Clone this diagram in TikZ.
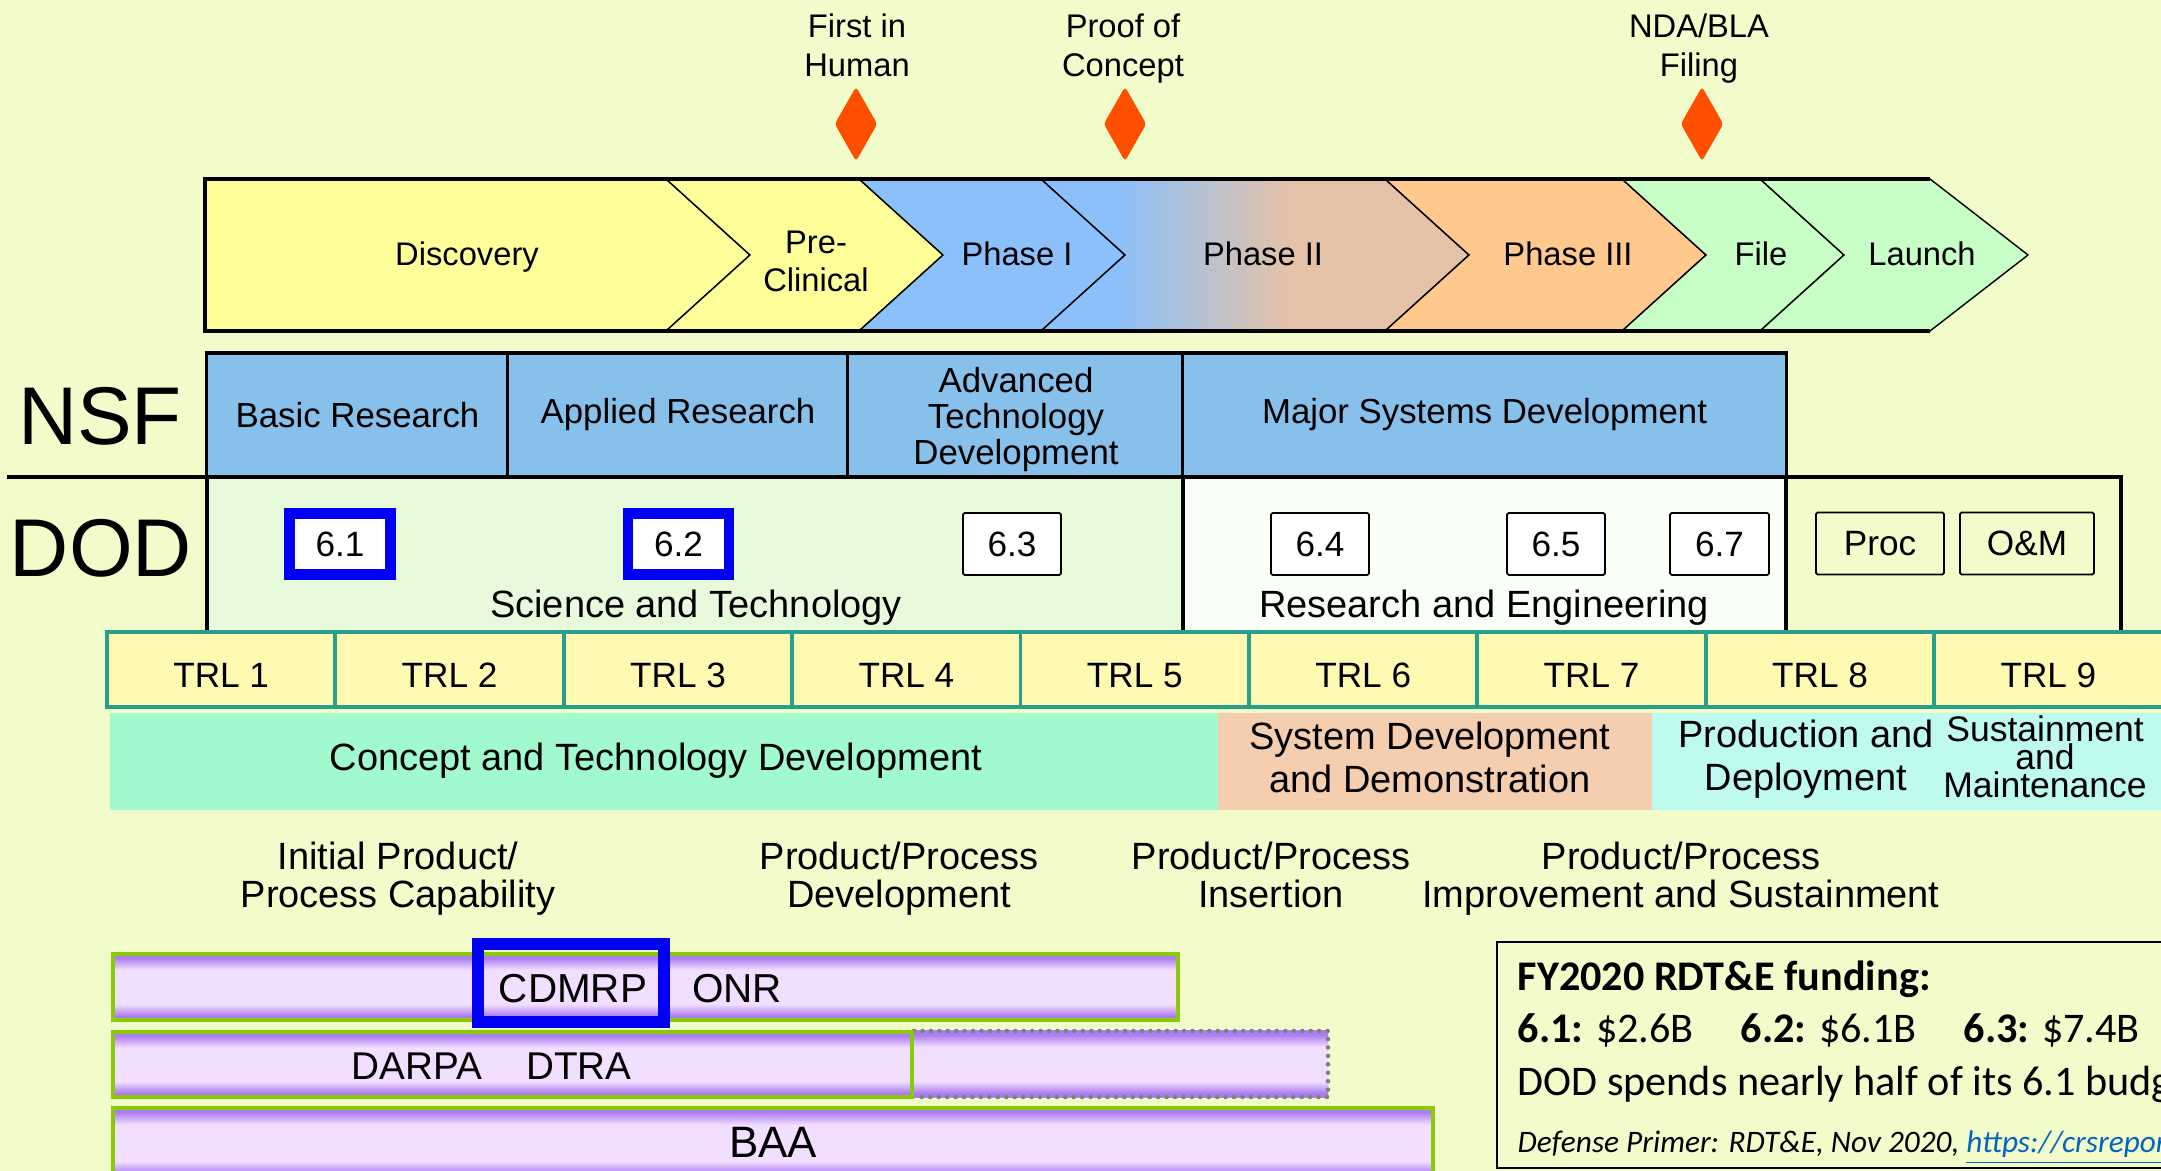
\documentclass[tikz,border=0pt]{standalone}
\usepackage{fontspec}
\setmainfont{Liberation Sans}
\newfontfamily\calibrifont{Carlito}
\usepackage{tikz}
\usetikzlibrary{shapes.geometric}

\definecolor{pagebg}{RGB}{242,252,202}
\definecolor{discyellow}{RGB}{255,255,153}
\definecolor{phaseblue}{RGB}{140,192,250}
\definecolor{phasepeach}{RGB}{228,194,168}
\definecolor{phaseorange}{RGB}{255,200,140}
\definecolor{filegreen}{RGB}{200,255,198}
\definecolor{mileorange}{RGB}{255,80,0}
\definecolor{nsfblue}{RGB}{135,192,235}
\definecolor{dodgreen}{RGB}{232,250,220}
\definecolor{dodwhite}{RGB}{249,254,246}
\definecolor{trlfill}{RGB}{255,249,178}
\definecolor{trlteal}{RGB}{40,160,140}
\definecolor{conceptmint}{RGB}{160,250,205}
\definecolor{syspeach}{RGB}{245,205,175}
\definecolor{prodcyan}{RGB}{190,250,240}
\definecolor{barpurple}{RGB}{172,125,240}
\definecolor{barlight}{RGB}{242,222,255}
\definecolor{bargreen}{RGB}{140,200,10}
\definecolor{linkblue}{RGB}{5,99,193}
\definecolor{markblue}{RGB}{0,0,245}

\pgfdeclareverticalshading{barshade}{100bp}{color(0bp)=(barpurple); color(25bp)=(barpurple); color(28bp)=(barpurple); color(37bp)=(barlight); color(63bp)=(barlight); color(72bp)=(barpurple); color(75bp)=(barpurple); color(100bp)=(barpurple)}
\pgfdeclarehorizontalshading{phasetwo}{100bp}{color(0bp)=(phaseblue); color(34bp)=(phaseblue); color(54bp)=(phasepeach); color(100bp)=(phasepeach)}

\begin{document}
\begin{tikzpicture}[x=0.01cm,y=-0.01cm,every node/.style={inner sep=0pt}]
				\tikzset{chevline/.style = {draw=black, line width=0.4pt}}
				\tikzset{chevouter/.style = {draw=black, line width=0.9pt}}% outer frame thickness
				\tikzset{tableline/.style = {draw=black, line width=0.9pt}}
				\tikzset{chevtext/.style = {font=\fontsize{9.3}{11}\selectfont, align=center}}
				\tikzset{milestone/.style = {diamond, fill=mileorange, minimum width=0.43cm, minimum height=0.75cm, rounded corners=1pt}}
				\tikzset{nsfcell/.style = {draw=black, line width=0.9pt, fill=nsfblue, minimum height=1.24cm, font=\fontsize{9.9}{10.2}\selectfont, align=center}}
				\tikzset{nsftext/.style = {font=\fontsize{9.9}{10.2}\selectfont, align=center}}
				\tikzset{numbox/.style = {draw=black, line width=0.5pt, fill=white, minimum height=0.62cm, rounded corners=0.5pt, font=\fontsize{10}{12}\selectfont}}
				\tikzset{bluebox/.style = {draw=markblue, line width=3.1pt, fill=white, minimum width=1.01cm, minimum height=0.61cm, font=\fontsize{10}{12}\selectfont}}
				\tikzset{trlcell/.style = {draw=trlteal, line width=1.1pt, fill=trlfill, minimum width=2.284cm, minimum height=0.75cm, text height=10pt, text depth=0pt, font=\fontsize{10}{12}\selectfont}}
				\tikzset{phasecell/.style = {minimum height=0.97cm}}
				\tikzset{bigtext/.style = {font=\fontsize{23.3}{26}\selectfont}}
				\tikzset{midtext/.style = {font=\fontsize{10.8}{12.3}\selectfont, align=center}}
				\tikzset{susttext/.style = {font=\fontsize{10.1}{11}\selectfont}}
				\tikzset{labeltext/.style = {font=\fontsize{10.8}{11}\selectfont, align=center}}
				\tikzset{fundbar/.style = {shade, shading=barshade, draw=bargreen, line width=1.1pt}}
				\tikzset{bartext/.style = {font=\fontsize{11.5}{13}\selectfont}}
				\tikzset{boxtext/.style = {font=\calibrifont\fontsize{12}{14}\selectfont}}
				
				\useasboundingbox (0,0) rectangle (2161,1171);
				\fill[pagebg] (0,0) rectangle (2161,1171);
				\clip (0,0) rectangle (2161,1171);
				
				%%%%%%%%%%%%%%%%%%%%%%%%%%%%%%
				% drug development chevrons
				\filldraw[chevline, fill=discyellow] (205,179) -- (666,179) -- (750,255) -- (666,331) -- (205,331) -- cycle;
				\filldraw[chevline, fill=discyellow] (666,179) -- (859,179) -- (943,255) -- (859,331) -- (666,331) -- (750,255) -- cycle;
				\filldraw[chevline, fill=phaseblue] (859,179) -- (1041,179) -- (1125,255) -- (1041,331) -- (859,331) -- (943,255) -- cycle;
				\shadedraw[chevline, shading=phasetwo] (1041,179) -- (1385,179) -- (1469,255) -- (1385,331) -- (1041,331) -- (1125,255) -- cycle;
				\filldraw[chevline, fill=phaseorange] (1385,179) -- (1622,179) -- (1706,255) -- (1622,331) -- (1385,331) -- (1469,255) -- cycle;
				\filldraw[chevline, fill=filegreen] (1622,179) -- (1760,179) -- (1844,255) -- (1760,331) -- (1622,331) -- (1706,255) -- cycle;
				\filldraw[chevline, fill=filegreen] (1760,179) -- (1930,179) -- (2028,255) -- (1930,331) -- (1760,331) -- (1844,255) -- cycle;
				\draw[chevouter] (1930,179) -- (205,179) -- (205,331) -- (1930,331);
				
				\node[chevtext, anchor=base] (C1) at (467,266) {Discovery};
				\node[chevtext, anchor=north] (C2) at (816,230) {Pre-\\Clinical};
				\node[chevtext, anchor=base] (C3) at (1017,266) {Phase I};
				\node[chevtext, anchor=base] (C4) at (1263,266) {Phase II};
				\node[chevtext, anchor=base] (C5) at (1568,266) {Phase III};
				\node[chevtext, anchor=base] (C6) at (1761,266) {File};
				\node[chevtext, anchor=base] (C7) at (1922,266) {Launch};
				
				% milestones
				\node[chevtext, anchor=north] (M1) at (857,13) {First in\\Human};
				\node[chevtext, anchor=north] (M2) at (1123,13) {Proof of\\Concept};
				\node[chevtext, anchor=north] (M3) at (1699,13) {NDA/BLA\\Filing};
				\node[milestone] (D1) at (856,124) {};
				\node[milestone] (D2) at (1125,124) {};
				\node[milestone] (D3) at (1702,124) {};
				
				%%%%%%%%%%%%%%%%%%%%%%%%%%%%%%
				% NSF / DOD table
				\fill[dodgreen] (207,477) rectangle (1183,630);
				\fill[dodwhite] (1183,477) rectangle (1786,630);
				\draw[tableline] (7,477) -- (2121,477) -- (2121,630);
				\draw[tableline] (207,477) -- (207,630);
				\draw[tableline] (1183,477) -- (1183,630);
				\draw[tableline] (1786,477) -- (1786,630);
				
				\node[nsfcell, minimum width=3.01cm] (N1) at (357.5,415) {Basic Research};
				\node[nsfcell, minimum width=3.40cm] (N2) at (678,415) {Applied Research};
				\node[nsfcell, minimum width=3.35cm] (N3) at (1015.5,415) {};
				\node[nsfcell, minimum width=6.03cm] (N4) at (1484.5,415) {Major Systems Development};
				\node[nsftext, anchor=north] (N3t) at (1016,367) {Advanced\\Technology\\Development};
				
				\node[bigtext, anchor=base] (NSF) at (100,445) {NSF};
				\node[bigtext, anchor=base] (DOD) at (101,577) {DOD};
				
				\node[bluebox] (B61) at (340,544) {6.1};
				\node[bluebox] (B62) at (678.5,544) {6.2};
				\node[numbox, minimum width=0.98cm] (B63) at (1012,544) {6.3};
				\node[numbox, minimum width=0.98cm] (B64) at (1320,544) {6.4};
				\node[numbox, minimum width=0.98cm] (B65) at (1556,544) {6.5};
				\node[numbox, minimum width=0.99cm] (B67) at (1719.5,544) {6.7};
				\node[numbox, minimum width=1.28cm, fill=pagebg] (Proc) at (1880,543.5) {Proc};
				\node[numbox, minimum width=1.34cm, fill=pagebg] (OM) at (2027,543.5) {O\&M};
				
				\node[midtext, anchor=base] (ST) at (696,618) {Science and Technology};
				\node[midtext, anchor=base] (RE) at (1484,618) {Research and Engineering};
				
				%%%%%%%%%%%%%%%%%%%%%%%%%%%%%%
				% technology readiness levels
				\node[trlcell] (TRL1) at (221.2,669.5) {TRL 1};
				\node[trlcell] (TRL2) at (449.6,669.5) {TRL 2};
				\node[trlcell] (TRL3) at (678.0,669.5) {TRL 3};
				\node[trlcell] (TRL4) at (906.4,669.5) {TRL 4};
				\node[trlcell] (TRL5) at (1134.8,669.5) {TRL 5};
				\node[trlcell] (TRL6) at (1363.2,669.5) {TRL 6};
				\node[trlcell] (TRL7) at (1591.6,669.5) {TRL 7};
				\node[trlcell] (TRL8) at (1820.0,669.5) {TRL 8};
				\node[trlcell] (TRL9) at (2048.4,669.5) {TRL 9};
				
				\node[phasecell, fill=conceptmint, minimum width=11.08cm] (P1) at (664,761.5) {};
				\node[phasecell, fill=syspeach, minimum width=4.34cm] (P2) at (1435,761.5) {};
				\node[phasecell, fill=prodcyan, minimum width=5.09cm] (P3) at (1906.5,761.5) {};
				
				\node[midtext, anchor=base] (T1) at (656,771) {Concept and Technology Development};
				\node[midtext, anchor=north] (T2) at (1430,721) {System Development\\and Demonstration};
				\node[midtext, anchor=north] (T3) at (1806,719) {Production and\\Deployment};
				\node[susttext, anchor=base] (T4a) at (2045,742) {Sustainment};
				\node[susttext, anchor=base] (T4b) at (2045,770) {and};
				\node[susttext, anchor=base] (T4c) at (2045,798) {Maintenance};
				
				\node[labeltext, anchor=north] (L1) at (398,841) {Initial Product/\\Process Capability};
				\node[labeltext, anchor=north] (L2) at (899,841) {Product/Process\\Development};
				\node[labeltext, anchor=north] (L3) at (1271,841) {Product/Process\\Insertion};
				\node[labeltext, anchor=north] (L4) at (1681,841) {Product/Process\\Improvement and Sustainment};
				
				%%%%%%%%%%%%%%%%%%%%%%%%%%%%%%
				% funding programs
				\shade[shading=barshade] (914,1031) rectangle (1328,1097);
				\draw[gray, line width=1.3pt, line cap=round, dash pattern=on 0pt off 2.4pt] (914,1031) -- (1328,1031) -- (1328,1097) -- (914,1097);
				\node[fundbar, minimum width=10.65cm, minimum height=0.66cm] (ONRbar) at (645.5,987) {};
				\node[fundbar, minimum width=7.99cm, minimum height=0.65cm] (DARPAbar) at (512.5,1064.5) {};
				\node[fundbar, minimum width=13.20cm, minimum height=0.70cm] (BAAbar) at (773,1143) {};
				\node[draw=markblue, line width=3.4pt, minimum width=1.86cm, minimum height=0.78cm] (CDMRPbox) at (571,983) {};
				
				\node[bartext, anchor=base] (CDMRP) at (573,1003) {CDMRP};
				\node[bartext, anchor=base] (ONR) at (737,1003) {ONR};
				\node[bartext, anchor=base, font=\fontsize{11}{13}\selectfont] (DARPA) at (417,1080) {DARPA};
				\node[bartext, anchor=base, font=\fontsize{11}{13}\selectfont] (DTRA) at (579,1080) {DTRA};
				\node[bartext, anchor=base, font=\fontsize{12.5}{14}\selectfont] (BAA) at (773,1157) {BAA};
				
				% funding note
				\draw[black, line width=0.5pt] (2200,942) -- (1497,942) -- (1497,1168) -- (2200,1168);
				\node[boxtext, anchor=base west] (F1) at (1517,991) {\bfseries FY2020 RDT\&E funding:};
				\node[boxtext, anchor=base west] (F2) at (1517,1042) {\textbf{6.1:} \$2.6B};
				\node[boxtext, anchor=base west] (F3) at (1740,1042) {\textbf{6.2:} \$6.1B};
				\node[boxtext, anchor=base west] (F4) at (1963,1042) {\textbf{6.3:} \$7.4B};
				\node[boxtext, anchor=base west] (F5) at (1517,1095) {DOD spends nearly half of its 6.1 budget};
				\node[boxtext, anchor=base west, font=\calibrifont\fontsize{8.9}{10}\selectfont\itshape] (F6) at (1517,1152) {Defense Primer: RDT\&E, Nov 2020, \textcolor{linkblue}{\underline{https://crsreports.congress.gov}}};
				
			\end{tikzpicture}
\end{document}
